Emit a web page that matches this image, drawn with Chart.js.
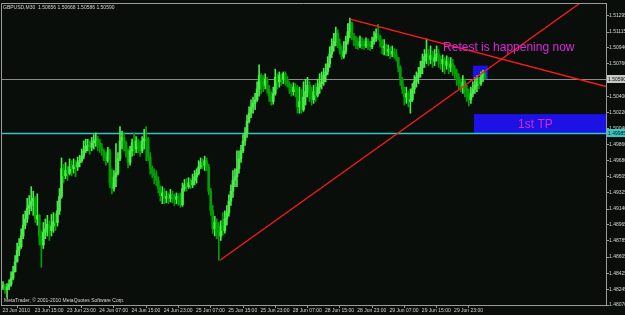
<!DOCTYPE html>
<html>
<head>
<meta charset="utf-8">
<script src="https://cdn.jsdelivr.net/npm/chart.js@4.4.0/dist/chart.umd.min.js"></script>
<style>
  html, body { margin: 0; padding: 0; background: #0a0e0a; }
  canvas { display: block; }
</style>
</head>
<body>
<canvas id="chart" width="625" height="315"></canvas>
<script>
// GBPUSD M30, one entry per bar, 23 Jun 2010 07:00 .. 30 Jun 2010 07:00
var opens = [
    1.4828,1.4826,1.4829,1.4824,1.4827,1.4830,1.4837,1.4844,1.4855,1.4868,
    1.4872,1.4884,1.4896,1.4903,1.4915,1.4918,1.4923,1.4926,1.4903,1.4907,
    1.4884,1.4874,1.4888,1.4892,1.4897,1.4890,1.4895,1.4900,1.4899,1.4912,
    1.4928,1.4959,1.4951,1.4957,1.4954,1.4961,1.4959,1.4963,1.4961,1.4966,
    1.4968,1.4973,1.4979,1.4984,1.4985,1.4983,1.4988,1.4990,1.4992,1.4988,
    1.4983,1.4979,1.4972,1.4968,1.4979,1.4943,1.4937,1.4950,1.4954,1.4970,
    1.4990,1.4994,1.4988,1.4979,1.4966,1.4979,1.4988,1.4981,1.4990,1.4984,
    1.4979,1.4990,1.4993,1.4992,1.4972,1.4959,1.4954,1.4951,1.4946,1.4937,
    1.4929,1.4932,1.4926,1.4928,1.4926,1.4930,1.4927,1.4925,1.4928,1.4923,
    1.4919,1.4937,1.4941,1.4939,1.4943,1.4941,1.4946,1.4950,1.4954,1.4961,
    1.4966,1.4963,1.4968,1.4961,1.4934,1.4912,1.4892,1.4899,1.4888,1.4884,
    1.4895,1.4890,1.4903,1.4910,1.4923,1.4934,1.4946,1.4950,1.4959,1.4970,
    1.4979,1.4990,1.4999,1.5012,1.5021,1.5028,1.5032,1.5036,1.5048,1.5063,
    1.5056,1.5052,1.5059,1.5048,1.5040,1.5034,1.5043,1.5061,1.5056,1.5063,
    1.5059,1.5065,1.5059,1.5054,1.5050,1.5045,1.5050,1.5048,1.5028,1.5034,
    1.5025,1.5039,1.5045,1.5052,1.5043,1.5036,1.5045,1.5041,1.5050,1.5054,
    1.5056,1.5063,1.5067,1.5076,1.5087,1.5096,1.5101,1.5110,1.5098,1.5092,
    1.5084,1.5090,1.5101,1.5112,1.5121,1.5107,1.5103,1.5098,1.5096,1.5101,
    1.5098,1.5096,1.5101,1.5097,1.5095,1.5101,1.5105,1.5110,1.5107,1.5101,
    1.5094,1.5096,1.5090,1.5092,1.5087,1.5090,1.5086,1.5083,1.5072,1.5059,
    1.5048,1.5039,1.5043,1.5034,1.5036,1.5048,1.5056,1.5061,1.5065,1.5072,
    1.5079,1.5084,1.5087,1.5081,1.5085,1.5079,1.5083,1.5087,1.5081,1.5076,
    1.5081,1.5074,1.5079,1.5072,1.5076,1.5070,1.5065,1.5061,1.5054,1.5050,
    1.5056,1.5048,1.5039,1.5036,1.5043,1.5048,1.5052,1.5056,1.5054,1.5061,
    1.50656
];
var highs = [
    1.4831,1.4833,1.4830,1.4831,1.4835,1.4844,1.4850,1.4862,1.4876,1.4881,
    1.4892,1.4908,1.4912,1.4926,1.4929,1.4939,1.4934,1.4928,1.4931,1.4908,
    1.4890,1.4899,1.4903,1.4907,1.4901,1.4908,1.4910,1.4909,1.4923,1.4937,
    1.4971,1.4964,1.4966,1.4962,1.4970,1.4968,1.4970,1.4968,1.4972,1.4974,
    1.4981,1.4990,1.4992,1.4992,1.4990,1.4994,1.4997,1.4999,1.4995,1.4992,
    1.4987,1.4981,1.4977,1.4983,1.4981,1.4959,1.4957,1.4987,1.4977,1.5006,
    1.5001,1.4999,1.4990,1.4981,1.4984,1.4992,1.4999,1.4995,1.4992,1.4990,
    1.4995,1.5003,1.5006,1.4994,1.4977,1.4962,1.4959,1.4957,1.4950,1.4940,
    1.4939,1.4937,1.4934,1.4932,1.4936,1.4934,1.4931,1.4932,1.4931,1.4932,
    1.4943,1.4947,1.4948,1.4949,1.4948,1.4953,1.4957,1.4959,1.4968,1.4971,
    1.4970,1.4973,1.4971,1.4964,1.4937,1.4918,1.4906,1.4903,1.4899,1.4901,
    1.4910,1.4912,1.4918,1.4930,1.4941,1.4957,1.4959,1.4979,1.4979,1.4985,
    1.4997,1.5005,1.5019,1.5028,1.5036,1.5039,1.5043,1.5056,1.5075,1.5065,
    1.5063,1.5065,1.5061,1.5052,1.5045,1.5050,1.5070,1.5065,1.5067,1.5065,
    1.5067,1.5067,1.5062,1.5056,1.5053,1.5055,1.5054,1.5052,1.5050,1.5048,
    1.5056,1.5059,1.5061,1.5056,1.5050,1.5052,1.5054,1.5059,1.5065,1.5067,
    1.5071,1.5076,1.5084,1.5095,1.5104,1.5110,1.5117,1.5114,1.5104,1.5096,
    1.5101,1.5107,1.5121,1.5127,1.5123,1.5110,1.5107,1.5105,1.5107,1.5105,
    1.5103,1.5105,1.5104,1.5101,1.5106,1.5112,1.5115,1.5120,1.5108,1.5103,
    1.5103,1.5098,1.5097,1.5095,1.5096,1.5093,1.5092,1.5083,1.5074,1.5061,
    1.5050,1.5050,1.5045,1.5048,1.5054,1.5063,1.5067,1.5072,1.5079,1.5087,
    1.5092,1.5104,1.5092,1.5096,1.5090,1.5092,1.5096,1.5092,1.5085,1.5086,
    1.5083,1.5085,1.5083,1.5083,1.5081,1.5074,1.5070,1.5065,1.5059,1.5063,
    1.5059,1.5052,1.5048,1.5050,1.5056,1.5061,1.5063,1.5061,1.5067,1.5069,
    1.50668
];
var lows = [
    1.4821,1.4824,1.4820,1.4815,1.4824,1.4828,1.4835,1.4844,1.4855,1.4862,
    1.4870,1.4881,1.4892,1.4899,1.4908,1.4912,1.4907,1.4899,1.4896,1.4874,
    1.4849,1.4870,1.4881,1.4884,1.4879,1.4884,1.4888,1.4890,1.4895,1.4908,
    1.4926,1.4943,1.4948,1.4946,1.4952,1.4951,1.4954,1.4950,1.4957,1.4961,
    1.4966,1.4970,1.4977,1.4979,1.4975,1.4979,1.4981,1.4984,1.4979,1.4977,
    1.4974,1.4968,1.4963,1.4966,1.4938,1.4931,1.4934,1.4939,1.4952,1.4968,
    1.4981,1.4979,1.4972,1.4960,1.4963,1.4973,1.4974,1.4977,1.4977,1.4973,
    1.4977,1.4981,1.4968,1.4968,1.4953,1.4949,1.4942,1.4940,1.4932,1.4923,
    1.4920,1.4920,1.4921,1.4920,1.4922,1.4921,1.4918,1.4920,1.4918,1.4916,
    1.4917,1.4934,1.4934,1.4937,1.4937,1.4938,1.4941,1.4943,1.4952,1.4959,
    1.4959,1.4957,1.4957,1.4930,1.4907,1.4887,1.4884,1.4881,1.4857,1.4879,
    1.4885,1.4887,1.4896,1.4906,1.4918,1.4927,1.4939,1.4939,1.4954,1.4966,
    1.4977,1.4985,1.4994,1.5010,1.5016,1.5021,1.5025,1.5034,1.5040,1.5043,
    1.5045,1.5048,1.5043,1.5034,1.5030,1.5031,1.5041,1.5048,1.5050,1.5052,
    1.5054,1.5052,1.5050,1.5043,1.5040,1.5041,1.5039,1.5021,1.5021,1.5021,
    1.5023,1.5030,1.5039,1.5034,1.5030,1.5032,1.5034,1.5039,1.5043,1.5048,
    1.5052,1.5056,1.5064,1.5072,1.5083,1.5090,1.5096,1.5094,1.5087,1.5081,
    1.5082,1.5087,1.5098,1.5105,1.5103,1.5096,1.5093,1.5092,1.5094,1.5093,
    1.5092,1.5094,1.5092,1.5091,1.5093,1.5098,1.5101,1.5103,1.5095,1.5087,
    1.5086,1.5085,1.5085,1.5082,1.5084,1.5082,1.5079,1.5067,1.5052,1.5043,
    1.5030,1.5032,1.5028,1.5021,1.5034,1.5043,1.5050,1.5054,1.5061,1.5065,
    1.5072,1.5076,1.5074,1.5076,1.5072,1.5074,1.5079,1.5072,1.5070,1.5067,
    1.5065,1.5070,1.5065,1.5067,1.5063,1.5059,1.5052,1.5048,1.5045,1.5043,
    1.5039,1.5034,1.5029,1.5032,1.5039,1.5043,1.5045,1.5048,1.5052,1.5056,
    1.50586
];
var closes = [
    1.4826,1.4829,1.4824,1.4827,1.4830,1.4837,1.4844,1.4855,1.4868,1.4872,
    1.4884,1.4896,1.4903,1.4915,1.4918,1.4923,1.4926,1.4903,1.4907,1.4884,
    1.4874,1.4888,1.4892,1.4897,1.4890,1.4895,1.4900,1.4899,1.4912,1.4928,
    1.4959,1.4951,1.4957,1.4954,1.4961,1.4959,1.4963,1.4961,1.4966,1.4968,
    1.4973,1.4979,1.4984,1.4985,1.4983,1.4988,1.4990,1.4992,1.4988,1.4983,
    1.4979,1.4972,1.4968,1.4979,1.4943,1.4937,1.4950,1.4954,1.4970,1.4990,
    1.4994,1.4988,1.4979,1.4966,1.4979,1.4988,1.4981,1.4990,1.4984,1.4979,
    1.4990,1.4993,1.4992,1.4972,1.4959,1.4954,1.4951,1.4946,1.4937,1.4929,
    1.4932,1.4926,1.4928,1.4926,1.4930,1.4927,1.4925,1.4928,1.4923,1.4919,
    1.4937,1.4941,1.4939,1.4943,1.4941,1.4946,1.4950,1.4954,1.4961,1.4966,
    1.4963,1.4968,1.4961,1.4934,1.4912,1.4892,1.4899,1.4888,1.4884,1.4895,
    1.4890,1.4903,1.4910,1.4923,1.4934,1.4946,1.4950,1.4959,1.4970,1.4979,
    1.4990,1.4999,1.5012,1.5021,1.5028,1.5032,1.5036,1.5048,1.5063,1.5056,
    1.5052,1.5059,1.5048,1.5040,1.5034,1.5043,1.5061,1.5056,1.5063,1.5059,
    1.5065,1.5059,1.5054,1.5050,1.5045,1.5050,1.5048,1.5028,1.5034,1.5025,
    1.5039,1.5045,1.5052,1.5043,1.5036,1.5045,1.5041,1.5050,1.5054,1.5056,
    1.5063,1.5067,1.5076,1.5087,1.5096,1.5101,1.5110,1.5098,1.5092,1.5084,
    1.5090,1.5101,1.5112,1.5121,1.5107,1.5103,1.5098,1.5096,1.5101,1.5098,
    1.5096,1.5101,1.5097,1.5095,1.5101,1.5105,1.5110,1.5107,1.5101,1.5094,
    1.5096,1.5090,1.5092,1.5087,1.5090,1.5086,1.5083,1.5072,1.5059,1.5048,
    1.5039,1.5043,1.5034,1.5036,1.5048,1.5056,1.5061,1.5065,1.5072,1.5079,
    1.5084,1.5087,1.5081,1.5085,1.5079,1.5083,1.5087,1.5081,1.5076,1.5081,
    1.5074,1.5079,1.5072,1.5076,1.5070,1.5065,1.5061,1.5054,1.5050,1.5056,
    1.5048,1.5039,1.5036,1.5043,1.5048,1.5052,1.5056,1.5054,1.5061,1.5065,
    1.50590
];

// time scale labels, one every 16 bars (8 hours)
var timeLabels = ['23 Jun 2010', '23 Jun 15:00', '23 Jun 23:00', '24 Jun 07:00', '24 Jun 15:00',
    '24 Jun 23:00', '25 Jun 07:00', '25 Jun 15:00', '25 Jun 23:00', '28 Jun 07:00',
    '28 Jun 15:00', '28 Jun 23:00', '29 Jun 07:00', '29 Jun 15:00', '29 Jun 23:00'];
var timeLabelBars = [0, 16, 32, 48, 64, 80, 96, 112, 128, 144, 160, 176, 192, 208, 224];
var priceTicks = [1.51295, 1.51115, 1.50940, 1.50760, 1.50400, 1.50220, 1.50040, 1.49860, 1.49680,
    1.49505, 1.49325, 1.49140, 1.48965, 1.48785, 1.48605, 1.48425, 1.48245, 1.48070];

var symbolTitle = 'GBPUSD,M30  1.50656 1.50668 1.50586 1.50590';
var copyrightText = 'MetaTrader, \u00a9 2001-2010 MetaQuotes Software Corp.';
var bidPrice = 1.50590;
var levelPrice = 1.49985;
// trend lines as [bar, price] pairs, drawn as rays to the right
var trendUp = [[108.6, 1.4857], [230.6, 1.5053]];
var trendDown = [[173.1, 1.5126], [257.4, 1.5076]];
var zones = [
    {from: 234.0, to: 241.5, top: 1.5074, bottom: 1.50590},
    {from: 234.5, to: 330, top: 1.5020, bottom: 1.49985}
];
var notes = [
    {text: 'Retest is happening now', bar: 219.2, price: 1.5090},
    {text: '1st TP', bar: 256.4, price: 1.5005}
];

var BG = '#0a0e0a';
var AXIS = '#9a9a9a';
var TEXT = '#d4d4d4';
var BULL = '#48ec48';
var BEAR = '#00a000';
var FONT = 'Liberation Sans';

var barIndex = closes.map(function (c, i) { return i; });

function candleColor(i) {
    return closes[i] >= opens[i] ? BULL : BEAR;
}

function rayEnd(scaleX, scaleY, pts, right) {
    var x0 = scaleX.getPixelForValue(pts[0][0]), y0 = scaleY.getPixelForValue(pts[0][1]);
    var x1 = scaleX.getPixelForValue(pts[1][0]), y1 = scaleY.getPixelForValue(pts[1][1]);
    var k = (y1 - y0) / (x1 - x0);
    return [x0, y0, right, y0 + k * (right - x0)];
}

var overlay = {
    id: 'overlay',
    beforeDraw: function (chart) {
        var ctx = chart.ctx;
        ctx.save();
        ctx.fillStyle = BG;
        ctx.fillRect(0, 0, chart.width, chart.height);
        ctx.restore();
    },
    beforeDatasetsDraw: function (chart) {
        var ctx = chart.ctx, a = chart.chartArea, sx = chart.scales.x, sy = chart.scales.y;
        ctx.save();
        ctx.beginPath();
        ctx.rect(a.left, a.top, a.right - a.left, a.bottom - a.top);
        ctx.clip();

        ctx.fillStyle = '#1c12e4';
        zones.forEach(function (z) {
            var x0 = sx.getPixelForValue(z.from), x1 = sx.getPixelForValue(z.to);
            var y0 = sy.getPixelForValue(z.top), y1 = sy.getPixelForValue(z.bottom);
            ctx.fillRect(x0, y0, x1 - x0, y1 - y0);
        });

        var yb = Math.round(sy.getPixelForValue(bidPrice)) + 0.5;
        ctx.strokeStyle = '#8a8a8a';
        ctx.lineWidth = 1;
        ctx.beginPath();
        ctx.moveTo(a.left, yb);
        ctx.lineTo(a.right, yb);
        ctx.stroke();

        var yl = Math.round(sy.getPixelForValue(levelPrice)) + 0.5;
        ctx.strokeStyle = '#34c4c4';
        ctx.lineWidth = 1.5;
        ctx.beginPath();
        ctx.moveTo(a.left, yl);
        ctx.lineTo(a.right, yl);
        ctx.stroke();
        ctx.restore();
    },
    afterDatasetsDraw: function (chart) {
        var ctx = chart.ctx, a = chart.chartArea, sx = chart.scales.x, sy = chart.scales.y;
        ctx.save();
        ctx.beginPath();
        ctx.rect(a.left, a.top, a.right - a.left, a.bottom - a.top);
        ctx.clip();

        ctx.strokeStyle = '#ff1a1a';
        ctx.lineWidth = 1.3;
        [trendUp, trendDown].forEach(function (pts) {
            var l = rayEnd(sx, sy, pts, a.right + 40);
            ctx.beginPath();
            ctx.moveTo(l[0], l[1]);
            ctx.lineTo(l[2], l[3]);
            ctx.stroke();
        });

        ctx.fillStyle = '#dc26dc';
        ctx.font = '12px "' + FONT + '"';
        ctx.textBaseline = 'alphabetic';
        notes.forEach(function (n) {
            ctx.fillText(n.text, sx.getPixelForValue(n.bar), sy.getPixelForValue(n.price));
        });
        ctx.restore();
    },
    afterDraw: function (chart) {
        var ctx = chart.ctx, a = chart.chartArea, sy = chart.scales.y;
        ctx.save();
        ctx.strokeStyle = AXIS;
        ctx.lineWidth = 1;
        ctx.beginPath();
        ctx.moveTo(a.left + 0.5, a.bottom);
        ctx.lineTo(a.left + 0.5, a.top + 0.5);
        ctx.lineTo(a.right, a.top + 0.5);
        ctx.stroke();

        ctx.font = '5px "' + FONT + '"';
        ctx.fillStyle = TEXT;
        ctx.textBaseline = 'alphabetic';
        ctx.fillText(symbolTitle, a.left + 2, a.top + 6);
        ctx.fillText(copyrightText, a.left + 3, a.bottom - 3);

        // price boxes on the axis
        [[bidPrice, '#c8c8c8'], [levelPrice, '#38c8c8']].forEach(function (b) {
            var y = Math.round(sy.getPixelForValue(b[0]));
            ctx.fillStyle = b[1];
            ctx.fillRect(a.right + 1, y - 4, chart.width - a.right, 8);
            ctx.fillStyle = '#101010';
            ctx.textBaseline = 'middle';
            ctx.fillText(b[0].toFixed(5), a.right + 2, y + 0.5);
        });
        ctx.restore();
    }
};

var chart = new Chart(document.getElementById('chart'), {
    type: 'bar',
    data: {
        datasets: [
            {
                label: 'range',
                data: barIndex.map(function (i) { return {x: i, y: [lows[i], highs[i]]}; }),
                backgroundColor: barIndex.map(candleColor),
                barThickness: 1,
                borderWidth: 0,
                grouped: false,
                order: 2
            },
            {
                label: 'body',
                data: barIndex.map(function (i) { return {x: i, y: [opens[i], closes[i]]}; }),
                backgroundColor: barIndex.map(candleColor),
                barThickness: 2,
                minBarLength: 1,
                borderWidth: 0,
                grouped: false,
                order: 1
            }
        ]
    },
    options: {
        responsive: false,
        animation: false,
        maintainAspectRatio: false,
        layout: { padding: { left: 1, top: 1, right: 0, bottom: 0 } },
        plugins: { legend: { display: false }, tooltip: { enabled: false } },
        scales: {
            x: {
                type: 'linear',
                min: 0,
                max: 300,
                bounds: 'data',
                offset: false,
                grid: { display: true, drawOnChartArea: false, tickLength: 3, color: AXIS },
                border: { color: AXIS },
                afterBuildTicks: function (s) {
                    s.ticks = timeLabelBars.map(function (v) { return {value: v}; });
                },
                afterFit: function (s) { s.height = 10; },
                ticks: {
                    autoSkip: false,
                    maxRotation: 0,
                    minRotation: 0,
                    align: 'start',
                    padding: 0,
                    color: TEXT,
                    font: { family: FONT, size: 5 },
                    callback: function (v, i) { return ' ' + timeLabels[i]; }
                }
            },
            y: {
                position: 'right',
                min: 1.48070,
                max: 1.51439,
                bounds: 'data',
                grid: { display: true, drawOnChartArea: false, tickLength: 3, color: AXIS },
                border: { color: AXIS },
                afterBuildTicks: function (s) {
                    s.ticks = priceTicks.map(function (v) { return {value: v}; });
                },
                afterFit: function (s) { s.width = 19; },
                ticks: {
                    autoSkip: false,
                    padding: 0,
                    color: TEXT,
                    font: { family: FONT, size: 5 },
                    callback: function (v) { return v.toFixed(5); }
                }
            }
        }
    },
    plugins: [overlay]
});
</script>
</body>
</html>
